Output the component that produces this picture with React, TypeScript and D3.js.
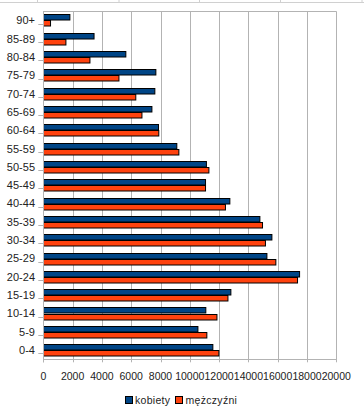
import React from 'react';
import * as d3 from 'd3';

// age groups, top to bottom as drawn
const ageGroups = [
  '90+', '85-89', '80-84', '75-79', '70-74', '65-69', '60-64', '55-59', '50-55', '45-49',
  '40-44', '35-39', '30-34', '25-29', '20-24', '15-19', '10-14', '5-9', '0-4',
];
const kobiety = [
  1800, 3450, 5620, 7670, 7600, 7400, 7850, 9100, 11120, 11060,
  12720, 14770, 15590, 15250, 17480, 12790, 11080, 10540, 11560,
];
const mezczyzni = [
  480, 1530, 3170, 5150, 6300, 6720, 7870, 9240, 11290, 11060,
  12420, 14950, 15150, 15860, 17340, 12590, 11840, 11150, 11970,
];
const xTicks = [0, 2000, 4000, 6000, 8000, 10000, 12000, 14000, 16000, 18000, 20000];
const seriesNames = ['kobiety', 'mężczyźni'];
const seriesColors = ['#004586', '#ff420e'];

const W = 364;
const H = 416;
const plot = { left: 43.3, right: 336.3, top: 11.3, bottom: 359.3 };
const font = '"Liberation Sans", Arial, sans-serif';

export default function App() {
  const x = d3.scaleLinear().domain([0, 20000]).range([plot.left, plot.right]);
  const y = d3.scaleBand<string>()
    .domain(ageGroups)
    .range([plot.top, plot.bottom])
    .paddingInner(0.34)
    .paddingOuter(0.17);
  const barH = y.bandwidth() / 2;
  const series = [kobiety, mezczyzni];

  return (
    <svg width={W} height={H} style={{ position: 'absolute', left: 0, top: 0, background: '#fff' }}>
      {/* faint ruler line along the top */}
      <line x1={0} x2={W} y1={2.5} y2={2.5} stroke="#d0d0d0" />
      {[37.5, 119, 199.5, 280.5, 362].map((t, i) => (
        <line key={i} x1={t} x2={t} y1={0} y2={2.5} stroke="#d0d0d0" />
      ))}

      {/* grid */}
      {xTicks.map(t => (
        <line key={t} x1={Math.round(x(t)) + 0.5} x2={Math.round(x(t)) + 0.5}
          y1={plot.top} y2={plot.bottom + 3} stroke="#b3b3b3" />
      ))}
      <line x1={plot.left} x2={plot.right} y1={Math.round(plot.top) + 0.5} y2={Math.round(plot.top) + 0.5} stroke="#b3b3b3" />
      <line x1={plot.left} x2={plot.right} y1={Math.round(plot.bottom) + 0.5} y2={Math.round(plot.bottom) + 0.5} stroke="#b3b3b3" />

      {/* category ticks */}
      {ageGroups.map(g => {
        const yy = Math.round(y(g)! + y.step() / 2 - y.step() * 0.17 + y.step() * 0.17) + 0.5;
        return <line key={g} x1={plot.left - 5} x2={plot.left} y1={yy} y2={yy} stroke="#b3b3b3" />;
      })}

      {/* bars */}
      {ageGroups.map((g, i) => (
        <g key={g}>
          {series.map((s, si) => (
            <rect key={si}
              x={Math.round(x(0)) + 0.5}
              y={Math.round(y(g)! + si * barH) + 0.5}
              width={x(s[i]) - x(0)}
              height={Math.round(barH) - 0.5}
              fill={seriesColors[si]} stroke="#000" strokeWidth={1} />
          ))}
        </g>
      ))}

      {/* y axis line */}
      <line x1={Math.round(plot.left) + 0.5} x2={Math.round(plot.left) + 0.5} y1={plot.top} y2={plot.bottom + 3} stroke="#b3b3b3" />

      {/* category labels */}
      {ageGroups.map(g => (
        <text key={g} x={35} y={y(g)! + y.bandwidth() / 2} dy="0.35em" textAnchor="end"
          fontFamily={font} fontSize={11} fill="#222">{g}</text>
      ))}

      {/* x tick labels */}
      {xTicks.map(t => (
        <text key={t} x={x(t)} y={380} textAnchor="middle" fontFamily={font} fontSize={10.5} fill="#222">{t}</text>
      ))}

      {/* legend */}
      <rect x={125.5} y={396.5} width={7} height={7} fill={seriesColors[0]} stroke="#000" />
      <text x={135} y={404} fontFamily={font} fontSize={10.5} fill="#222" letterSpacing={0.3}>{seriesNames[0]}</text>
      <rect x={175.5} y={396.5} width={7} height={7} fill={seriesColors[1]} stroke="#000" />
      <text x={185.5} y={404} fontFamily={font} fontSize={10.5} fill="#222" letterSpacing={0.3}>{seriesNames[1]}</text>
    </svg>
  );
}
